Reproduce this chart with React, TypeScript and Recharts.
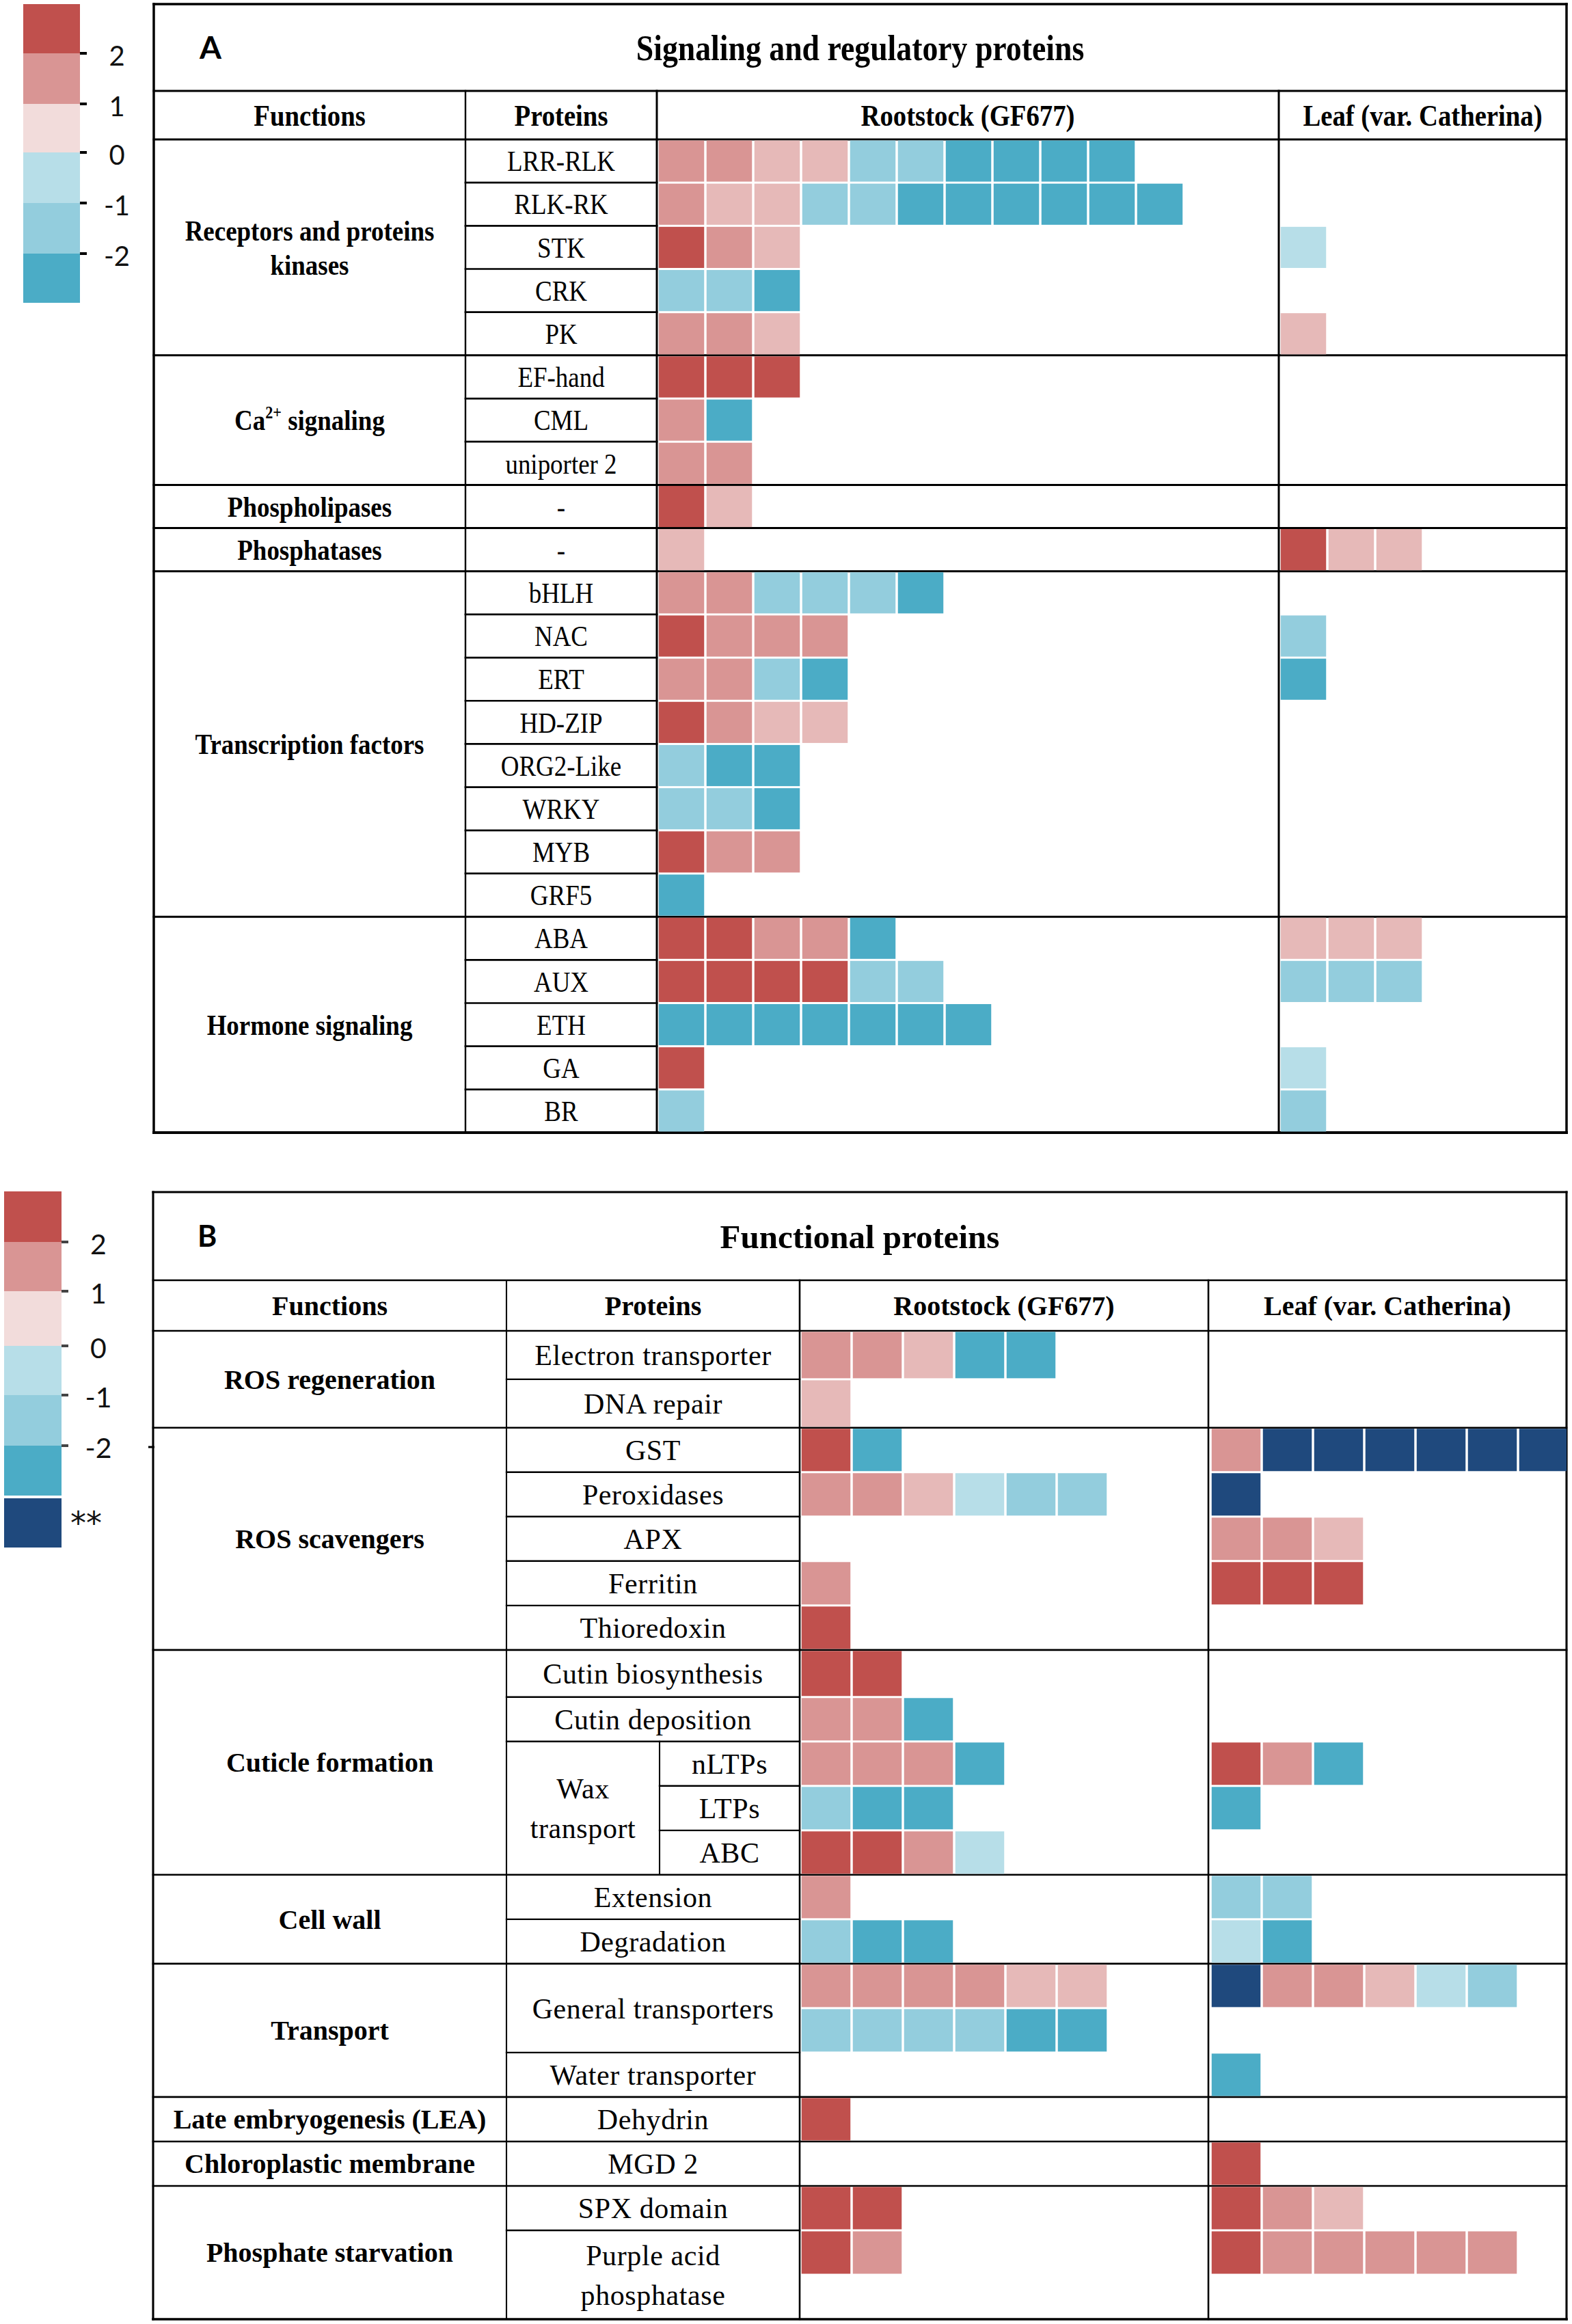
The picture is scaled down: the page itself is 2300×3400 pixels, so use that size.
import React from "react";
import { ScatterChart, Scatter, XAxis, YAxis, ReferenceLine } from "recharts";

type Val = number | "**";

const SERIF = "'Liberation Serif', 'Times New Roman', serif";
const SANS = "Lato, 'Liberation Sans', Arial, sans-serif";

// colour scale (log2 fold change bins)
const legendTicks = ["2", "1", "0", "-1", "-2"];
const legendBandColors = ["#C0504D", "#D99594", "#F2DCDB", "#B7DEE8", "#93CDDD", "#4BACC6"];
const significantColor = "#1F497D";

const headerLabels = ["Functions", "Proteins", "Rootstock (GF677)", "Leaf (var. Catherina)"];

// ---------- panel A : signaling and regulatory proteins ----------
const signalingFunctions = [
  "Receptors and proteins|kinases",
  "Ca^2+ signaling",
  "Phospholipases",
  "Phosphatases",
  "Transcription factors",
  "Hormone signaling",
];
const signalingFunctionRows = [5, 3, 1, 1, 8, 5];
const signalingProteins = [
  "LRR-RLK", "RLK-RK", "STK", "CRK", "PK",
  "EF-hand", "CML", "uniporter 2",
  "-", "-",
  "bHLH", "NAC", "ERT", "HD-ZIP", "ORG2-Like", "WRKY", "MYB", "GRF5",
  "ABA", "AUX", "ETH", "GA", "BR",
];
const signalingProteinRows = signalingProteins.map(() => 1);
const signalingRootstock: Val[][] = [
  [1.5, 1.5, 0.5, 0.5, -1.5, -1.5, -2.5, -2.5, -2.5, -2.5],
  [1.5, 0.5, 0.5, -1.5, -1.5, -2.5, -2.5, -2.5, -2.5, -2.5, -2.5],
  [2.5, 1.5, 0.5],
  [-1.5, -1.5, -2.5],
  [1.5, 1.5, 0.5],
  [2.5, 2.5, 2.5],
  [1.5, -2.5],
  [1.5, 1.5],
  [2.5, 0.5],
  [0.5],
  [1.5, 1.5, -1.5, -1.5, -1.5, -2.5],
  [2.5, 1.5, 1.5, 1.5],
  [1.5, 1.5, -1.5, -2.5],
  [2.5, 1.5, 0.5, 0.5],
  [-1.5, -2.5, -2.5],
  [-1.5, -1.5, -2.5],
  [2.5, 1.5, 1.5],
  [-2.5],
  [2.5, 2.5, 1.5, 1.5, -2.5],
  [2.5, 2.5, 2.5, 2.5, -1.5, -1.5],
  [-2.5, -2.5, -2.5, -2.5, -2.5, -2.5, -2.5],
  [2.5],
  [-1.5],
];
const signalingLeaf: Val[][] = [
  [], [], [-0.5], [], [0.5],
  [], [], [],
  [],
  [2.5, 0.5, 0.5],
  [], [-1.5], [-2.5], [], [], [], [], [],
  [0.5, 0.5, 0.5],
  [-1.5, -1.5, -1.5],
  [],
  [-0.5],
  [-1.5],
];

// ---------- panel B : functional proteins ----------
const functionalFunctions = [
  "ROS regeneration",
  "ROS scavengers",
  "Cuticle formation",
  "Cell wall",
  "Transport",
  "Late embryogenesis (LEA)",
  "Chloroplastic membrane",
  "Phosphate starvation",
];
const functionalFunctionRows = [2, 5, 5, 2, 3, 1, 1, 3];
const functionalProteins = [
  "Electron transporter", "DNA repair",
  "GST", "Peroxidases", "APX", "Ferritin", "Thioredoxin",
  "Cutin biosynthesis", "Cutin deposition", "nLTPs", "LTPs", "ABC",
  "Extension", "Degradation",
  "General transporters", "Water transporter",
  "Dehydrin",
  "MGD 2",
  "SPX domain", "Purple acid|phosphatase",
];
const functionalProteinRows = [1, 1, 1, 1, 1, 1, 1, 1, 1, 1, 1, 1, 1, 1, 2, 1, 1, 1, 1, 2];
// relative height of each table row (the first rows are a little taller)
const functionalRowHeights = [1.09, 1.09, 1, 1, 1, 1, 1, 1.06, 1, 1, 1, 1, 1, 1, 1, 1, 1, 1, 1, 1, 1, 1];
const waxTransport = { label: "Wax|transport", start: 9, rows: 3 };
const functionalRootstock: Val[][] = [
  [1.5, 1.5, 0.5, -2.5, -2.5],
  [0.5],
  [2.5, -2.5],
  [1.5, 1.5, 0.5, -0.5, -1.5, -1.5],
  [],
  [1.5],
  [2.5],
  [2.5, 2.5],
  [1.5, 1.5, -2.5],
  [1.5, 1.5, 1.5, -2.5],
  [-1.5, -2.5, -2.5],
  [2.5, 2.5, 1.5, -0.5],
  [1.5],
  [-1.5, -2.5, -2.5],
  [1.5, 1.5, 1.5, 1.5, 0.5, 0.5],
  [-1.5, -1.5, -1.5, -1.5, -2.5, -2.5],
  [],
  [2.5],
  [],
  [2.5, 2.5],
  [2.5, 1.5],
  [],
];
const functionalLeaf: Val[][] = [
  [],
  [],
  [1.5, "**", "**", "**", "**", "**", "**"],
  ["**"],
  [1.5, 1.5, 0.5],
  [2.5, 2.5, 2.5],
  [],
  [],
  [],
  [2.5, 1.5, -2.5],
  [-2.5],
  [],
  [-1.5, -1.5],
  [-0.5, -2.5],
  ["**", 1.5, 1.5, 0.5, -0.5, -1.5],
  [],
  [-2.5],
  [],
  [2.5],
  [2.5, 1.5, 0.5],
  [2.5, 1.5, 1.5, 1.5, 1.5, 1.5],
  [],
];

function cellColor(v: Val) {
  if (v === "**") return significantColor;
  if (v >= 2) return legendBandColors[0];
  if (v >= 1) return legendBandColors[1];
  if (v > 0) return "#E6B9B8";
  if (v > -1) return legendBandColors[3];
  if (v > -2) return legendBandColors[4];
  return legendBandColors[5];
}

function renderSup(line: string, size: number) {
  const m = line.match(/^(.*)\^(\S+)(.*)$/);
  if (!m) return line;
  return [
    <tspan key="a">{m[1]}</tspan>,
    <tspan key="b" fontSize={size * 0.6} dy={-size * 0.42}>{m[2]}</tspan>,
    <tspan key="c" dy={size * 0.42}>{m[3]}</tspan>,
  ];
}

const textShape =
  (size: number, weight: number | string, family: string, sx: number, gap: number, anchor = "middle", spacing = 0) =>
  (props: any) => {
    const { cx, cy, payload } = props;
    const lines = String(payload.text).split("|");
    return (
      <g transform={`translate(${cx},${cy}) scale(${sx},1)`}>
        {lines.map((ln, i) => (
          <text
            key={i}
            x={0}
            y={(i - (lines.length - 1) / 2) * gap}
            dy="0.35em"
            textAnchor={anchor}
            fontFamily={family}
            fontSize={size}
            fontWeight={weight}
            letterSpacing={spacing}
            fill="#000"
            style={{ whiteSpace: "pre" }}
          >
            {renderSup(ln, size)}
          </text>
        ))}
      </g>
    );
  };

interface Layout {
  letter: string;
  title: string;
  left: number;
  top: number;
  right: number;
  bottom: number;
  titleBottom: number;
  headerBottom: number;
  fnRight: number;
  protRight: number;
  leafLeft: number;
  waxSplit?: number;
  originX: number;
  pitch: number;
  leafOffset: number;
  letterX: number;
  sx: number;
  titleSize: number;
  headerSize: number;
  fnSize: number;
  protSize: number;
  protSpacing: number;
  letterSize: number;
  lineGap: number;
  stroke: number;
}

function Panel({
  L,
  functions,
  functionRows,
  proteins,
  proteinRows,
  rowHeights,
  rootstock,
  leaf,
  sub,
}: {
  L: Layout;
  functions: string[];
  functionRows: number[];
  proteins: string[];
  proteinRows: number[];
  rowHeights?: number[];
  rootstock: Val[][];
  leaf: Val[][];
  sub?: { label: string; start: number; rows: number };
}) {
  const slots = functionRows.reduce((a, b) => a + b, 0);
  const weights = rowHeights ?? Array.from({ length: slots }, () => 1);
  const tops = [0];
  weights.forEach((w, i) => tops.push(tops[i] + w));
  const total = tops[slots];
  const h = (L.bottom - L.headerBottom) / total;
  const ux = (px: number) => (px - L.originX) / L.pitch;
  const uy = (px: number) => (px - L.headerBottom) / h;
  const mid = (a: number, b: number) => (tops[a] + tops[b]) / 2;
  const m = 6;
  const W = L.right - L.left + 2 * m;
  const H = L.bottom - L.top + 2 * m;

  const rootCells = rootstock.flatMap((row, r) =>
    row.map((v, i) => ({ x: i + 0.5, y: mid(r, r + 1), hgt: weights[r], v }))
  );
  const leafCells = leaf.flatMap((row, r) =>
    row.map((v, i) => ({ x: L.leafOffset + i + 0.5, y: mid(r, r + 1), hgt: weights[r], v }))
  );

  // function groups
  const groupBounds: number[] = [];
  const fnLabels: { x: number; y: number; text: string }[] = [];
  let acc = 0;
  functions.forEach((f, g) => {
    fnLabels.push({ x: ux((L.left + L.fnRight) / 2), y: mid(acc, acc + functionRows[g]), text: f });
    acc += functionRows[g];
    if (acc < slots) groupBounds.push(acc);
  });

  // proteins
  const protLabels: { x: number; y: number; text: string }[] = [];
  const protBounds: { y: number; x0: number }[] = [];
  const inSub = (s: number) => !!sub && s >= sub.start && s < sub.start + sub.rows;
  let s = 0;
  proteins.forEach((p, k) => {
    const span = proteinRows[k];
    const cx = inSub(s) && L.waxSplit ? (L.waxSplit + L.protRight) / 2 : (L.fnRight + L.protRight) / 2;
    protLabels.push({ x: ux(cx), y: mid(s, s + span), text: p });
    s += span;
    if (s < slots && !groupBounds.includes(s)) {
      const inner = !!sub && s > sub.start && s < sub.start + sub.rows && L.waxSplit;
      protBounds.push({ y: s, x0: inner ? (L.waxSplit as number) : L.fnRight });
    }
  });
  const subLabels =
    sub && L.waxSplit
      ? [{ x: ux((L.fnRight + L.waxSplit) / 2), y: mid(sub.start, sub.start + sub.rows), text: sub.label }]
      : [];

  const headerY = uy((L.titleBottom + L.headerBottom) / 2);
  const headerTexts = [
    { x: ux((L.left + L.fnRight) / 2), y: headerY, text: headerLabels[0] },
    { x: ux((L.fnRight + L.protRight) / 2), y: headerY, text: headerLabels[1] },
    { x: ux((L.protRight + L.leafLeft) / 2), y: headerY, text: headerLabels[2] },
    { x: ux((L.leafLeft + L.right) / 2), y: headerY, text: headerLabels[3] },
  ];
  const titleY = uy((L.top + L.titleBottom) / 2);
  const titleText = [{ x: ux((L.left + L.right) / 2), y: titleY, text: L.title }];
  const letterText = [{ x: ux(L.letterX), y: titleY, text: L.letter }];

  // table rules: [x0, y0, x1, y1] in axis units
  const xl = ux(L.left);
  const xr = ux(L.right);
  const yt = uy(L.top);
  const yb = total;
  const yTitle = uy(L.titleBottom);
  const segs: { p: number[]; w: number }[] = [
    { p: [xl, yt, xr, yt], w: L.stroke + 0.5 },
    { p: [xl, yb, xr, yb], w: L.stroke + 1 },
    { p: [xl, yt, xl, yb], w: L.stroke + 0.5 },
    { p: [xr, yt, xr, yb], w: L.stroke + 0.5 },
    { p: [xl, yTitle, xr, yTitle], w: L.stroke },
    { p: [xl, 0, xr, 0], w: L.stroke },
    { p: [ux(L.fnRight), yTitle, ux(L.fnRight), yb], w: L.stroke * 0.8 },
    { p: [ux(L.protRight), yTitle, ux(L.protRight), yb], w: L.stroke },
    { p: [ux(L.leafLeft), yTitle, ux(L.leafLeft), yb], w: L.stroke },
    ...groupBounds.map((g) => ({ p: [xl, tops[g], xr, tops[g]], w: L.stroke })),
    ...protBounds.map((b) => ({ p: [ux(b.x0), tops[b.y], ux(L.protRight), tops[b.y]], w: L.stroke * 0.9 })),
  ];
  if (sub && L.waxSplit) {
    segs.push({
      p: [ux(L.waxSplit), tops[sub.start], ux(L.waxSplit), tops[sub.start + sub.rows]],
      w: L.stroke * 0.8,
    });
  }

  const cellShape = (props: any) => {
    const { cx, cy, payload } = props;
    const w = L.pitch - 3.5;
    const hh = payload.hgt * h - 3;
    return <rect x={cx - w / 2} y={cy - hh / 2} width={w} height={hh} fill={cellColor(payload.v)} />;
  };

  return (
    <div style={{ position: "absolute", left: L.left - m, top: L.top - m, width: W, height: H }}>
      <ScatterChart width={W} height={H} margin={{ top: m, right: m, bottom: m, left: m }}>
        <XAxis type="number" dataKey="x" domain={[xl, xr]} allowDataOverflow hide />
        <YAxis type="number" dataKey="y" domain={[yt, yb]} allowDataOverflow reversed hide />
        <Scatter name="Rootstock" data={rootCells} shape={cellShape} isAnimationActive={false} />
        <Scatter name="Leaf" data={leafCells} shape={cellShape} isAnimationActive={false} />
        {segs.map((sg, i) => (
          <ReferenceLine
            key={i}
            segment={[
              { x: sg.p[0], y: sg.p[1] },
              { x: sg.p[2], y: sg.p[3] },
            ]}
            stroke="#000"
            strokeWidth={sg.w}
            strokeLinecap="square"
            ifOverflow="visible"
          />
        ))}
        <Scatter data={titleText} shape={textShape(L.titleSize, 700, SERIF, L.sx, 0)} isAnimationActive={false} />
        <Scatter
          data={letterText}
          shape={textShape(L.letterSize, 700, SANS, 1, 0, "start")}
          isAnimationActive={false}
        />
        <Scatter data={headerTexts} shape={textShape(L.headerSize, 700, SERIF, L.sx, 0)} isAnimationActive={false} />
        <Scatter data={fnLabels} shape={textShape(L.fnSize, 700, SERIF, L.sx, L.lineGap)} isAnimationActive={false} />
        <Scatter
          data={subLabels}
          shape={textShape(L.protSize, 400, SERIF, L.sx, L.lineGap, "middle", L.protSpacing)}
          isAnimationActive={false}
        />
        <Scatter
          data={protLabels}
          shape={textShape(L.protSize, 400, SERIF, L.sx, L.lineGap, "middle", L.protSpacing)}
          isAnimationActive={false}
        />
      </ScatterChart>
    </div>
  );
}

function ColorLegend({
  x,
  width,
  bounds,
  labelX,
  size,
  tickColor,
  significant,
}: {
  x: number;
  width: number;
  bounds: number[];
  labelX: number;
  size: number;
  tickColor: string;
  significant?: number[];
}) {
  return (
    <>
      {legendBandColors.map((c, i) => (
        <rect key={c} x={x} y={bounds[i]} width={width} height={bounds[i + 1] - bounds[i]} fill={c} />
      ))}
      {legendTicks.map((t, i) => (
        <g key={t}>
          <line
            x1={x + width}
            x2={x + width + 10}
            y1={bounds[i + 1]}
            y2={bounds[i + 1]}
            stroke={tickColor}
            strokeWidth={4}
          />
          <text
            x={labelX}
            y={bounds[i + 1] + 4}
            dy="0.35em"
            textAnchor="middle"
            fontFamily={SANS}
            fontSize={size}
            fill="#111"
          >
            {t}
          </text>
        </g>
      ))}
      {significant && (
        <>
          <rect
            x={x}
            y={significant[0]}
            width={width}
            height={significant[1] - significant[0]}
            fill={significantColor}
          />
          <text
            x={labelX - 18}
            y={(significant[0] + significant[1]) / 2 + 16}
            textAnchor="middle"
            fontFamily="'DejaVu Sans', sans-serif"
            fontSize={46}
            fill="#111"
          >
            **
          </text>
        </>
      )}
    </>
  );
}

const layoutA: Layout = {
  letter: "A",
  title: "Signaling and regulatory proteins",
  left: 225,
  top: 6,
  right: 2292,
  bottom: 1657,
  titleBottom: 133,
  headerBottom: 204,
  fnRight: 681,
  protRight: 961,
  leafLeft: 1871,
  originX: 962,
  pitch: 70,
  leafOffset: 13,
  letterX: 292,
  sx: 0.88,
  titleSize: 52,
  headerSize: 44,
  fnSize: 42,
  protSize: 42,
  protSpacing: 0,
  letterSize: 46,
  lineGap: 50,
  stroke: 3,
};

const layoutB: Layout = {
  letter: "B",
  title: "Functional proteins",
  left: 224,
  top: 1744,
  right: 2292,
  bottom: 3393,
  titleBottom: 1873,
  headerBottom: 1947,
  fnRight: 741,
  protRight: 1170,
  leafLeft: 1768,
  waxSplit: 965,
  originX: 1171,
  pitch: 75,
  leafOffset: 8,
  letterX: 289,
  sx: 1,
  titleSize: 49,
  headerSize: 40,
  fnSize: 40,
  protSize: 42,
  protSpacing: 0.6,
  letterSize: 43,
  lineGap: 58,
  stroke: 2.6,
};

export default function App() {
  return (
    <div style={{ position: "absolute", left: 0, top: 0, width: 2300, height: 3400, background: "#fff" }}>
      <svg width={230} height={3400} style={{ position: "absolute", left: 0, top: 0 }}>
        <ColorLegend
          x={34}
          width={83}
          bounds={[6, 78, 152, 223, 297, 371, 443]}
          labelX={171}
          size={40}
          tickColor="#000"
        />
        <ColorLegend
          x={6}
          width={84}
          bounds={[1743, 1817, 1889, 1969, 2041, 2115, 2188]}
          labelX={144}
          size={41}
          tickColor="#444"
          significant={[2192, 2264]}
        />
        <line x1={217} x2={226} y1={2117} y2={2117} stroke="#000" strokeWidth={3} />
      </svg>
      <Panel
        L={layoutA}
        functions={signalingFunctions}
        functionRows={signalingFunctionRows}
        proteins={signalingProteins}
        proteinRows={signalingProteinRows}
        rootstock={signalingRootstock}
        leaf={signalingLeaf}
      />
      <Panel
        L={layoutB}
        functions={functionalFunctions}
        functionRows={functionalFunctionRows}
        proteins={functionalProteins}
        proteinRows={functionalProteinRows}
        rowHeights={functionalRowHeights}
        rootstock={functionalRootstock}
        leaf={functionalLeaf}
        sub={waxTransport}
      />
    </div>
  );
}
